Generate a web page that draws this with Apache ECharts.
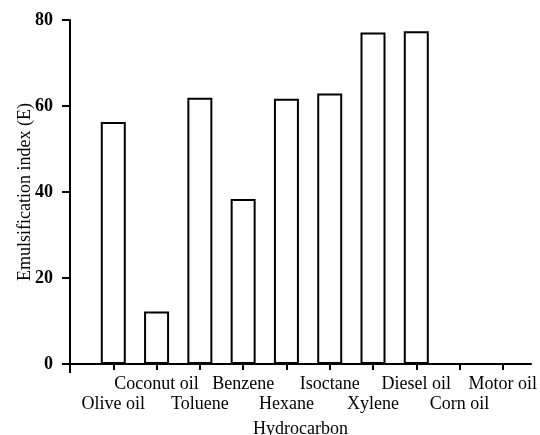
<!DOCTYPE html>
<html>
<head>
<meta charset="utf-8">
<script src="https://cdn.jsdelivr.net/npm/echarts@6/dist/echarts.min.js"></script>
<style>html,body{margin:0;padding:0;background:#fff}#c{width:540px;height:435px}</style>
</head>
<body>
<div id="c"></div>
<script>
const categories = ['Olive oil','Coconut oil','Toluene','Benzene','Hexane','Isoctane','Xylene','Diesel oil','Corn oil','Motor oil'];
const values = [56.3, 12.2, 61.9, 38.4, 61.7, 62.9, 77.1, 77.4, null, null];
const yTicks = [0, 20, 40, 60, 80];

const FONT = '"Liberation Serif", "DejaVu Serif", serif';
const positions = categories.map((c, i) => i + 1);
const upperRow = positions.filter(p => p % 2 === 0);
const lowerRow = positions.filter(p => p % 2 === 1);
const fmt = v => categories[Math.round(v) - 1] || '';
const lblBase = { fontFamily: FONT, fontSize: 18, color: '#000', formatter: fmt,
  showMinLabel: true, showMaxLabel: true, hideOverlap: false };

const chart = echarts.init(document.getElementById('c'));
chart.setOption({
  animation: false,
  backgroundColor: '#fff',
  grid: { left: 70, right: 9, top: 20, bottom: 71, containLabel: false, outerBoundsMode: 'none' },
  xAxis: [{
    type: 'value', min: 0, max: 10.65,
    name: 'Hydrocarbon', nameLocation: 'middle', nameGap: 56, nameMoveOverlap: false,
    nameTextStyle: { fontFamily: FONT, fontSize: 18, color: '#000', verticalAlign: 'top' },
    axisLine: { show: true, lineStyle: { color: '#000', width: 2 } },
    axisTick: { show: true, length: 6, lineStyle: { color: '#000', width: 2 }, customValues: positions },
    axisLabel: Object.assign({ customValues: upperRow, margin: 11 }, lblBase),
    splitLine: { show: false }
  }, {
    type: 'value', min: 0, max: 10.65, position: 'bottom',
    axisLine: { show: false },
    axisTick: { show: true, length: 9, lineStyle: { color: '#000', width: 2 }, customValues: [0] },
    axisLabel: Object.assign({ customValues: lowerRow, margin: 31 }, lblBase),
    splitLine: { show: false }
  }],
  yAxis: {
    type: 'value', min: 0, max: 80, interval: 20,
    name: 'Emulsification index (E)', nameLocation: 'middle', nameGap: 36, nameMoveOverlap: false,
    nameTextStyle: { fontFamily: FONT, fontSize: 18, color: '#000' },
    axisLine: { show: true, lineStyle: { color: '#000', width: 2 } },
    axisTick: { show: true, length: 8, lineStyle: { color: '#000', width: 2 }, customValues: yTicks },
    axisLabel: { customValues: yTicks, margin: 17, fontFamily: FONT, fontSize: 18, fontWeight: 'bold', color: '#000',
      showMinLabel: true, showMaxLabel: true },
    splitLine: { show: false }
  },
  series: [{
    type: 'bar', xAxisIndex: 0,
    data: positions.map((p, i) => [p, values[i]]),
    barWidth: 25,
    itemStyle: { color: '#fff', borderColor: '#000', borderWidth: 2 }
  }]
});
</script>
</body>
</html>
